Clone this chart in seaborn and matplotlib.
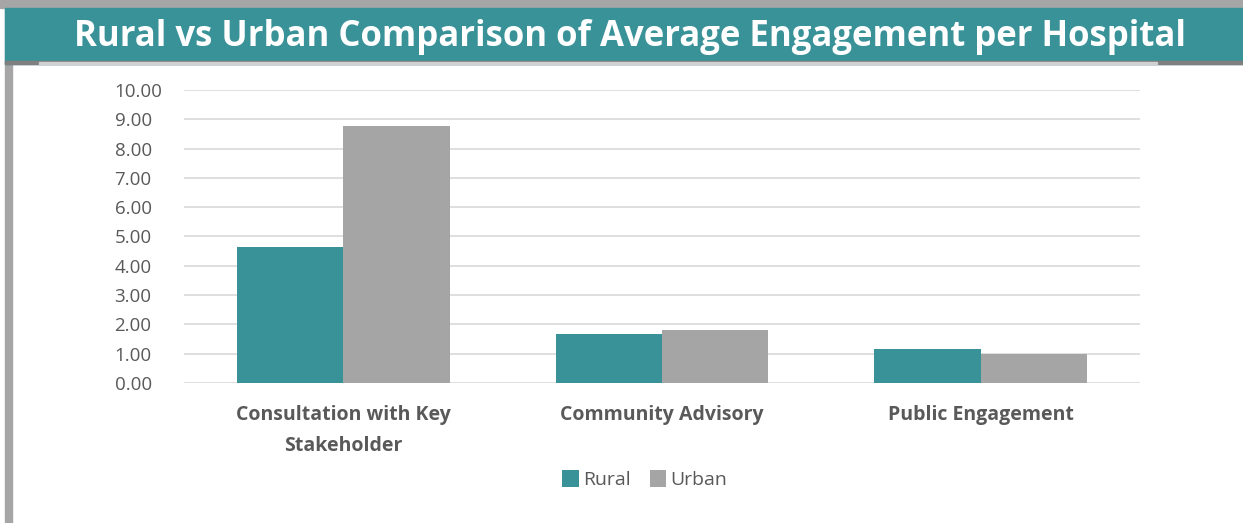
import seaborn as sns
import pandas as pd
import numpy as np
import matplotlib.pyplot as plt
from matplotlib.patches import Rectangle

categories = ['Consultation with Key\nStakeholder', 'Community Advisory', 'Public Engagement']
rural = [4.65, 1.66, 1.17]
urban = [8.78, 1.80, 0.99]
groups = ['Rural', 'Urban']
colors = ['#3a9299', '#a5a5a5']

df = pd.DataFrame({
    'cat': categories * 2,
    'grp': ['Rural'] * 3 + ['Urban'] * 3,
    'val': rural + urban,
})

sns.set_style('white')
plt.rcParams['font.family'] = ['Open Sans', 'DejaVu Sans']

fig = plt.figure(figsize=(12.43, 5.23), dpi=100)

# frame decorations
fig.patches.append(Rectangle((0, 0.985), 1, 0.015, transform=fig.transFigure, color='#a6a6a6', zorder=0))
fig.patches.append(Rectangle((0.004, 0), 0.006, 0.99, transform=fig.transFigure, color='#a6a6a6', zorder=0))
fig.patches.append(Rectangle((0.004, 0.878), 0.996, 0.106, transform=fig.transFigure, color='#3a9299', zorder=1))
fig.patches.append(Rectangle((0.004, 0.878), 0.996, 0.006, transform=fig.transFigure, color='#7f7f7f', zorder=2))
fig.patches.append(Rectangle((0.031, 0.878), 0.90, 0.003, transform=fig.transFigure, color='#d0d0d0', zorder=3))
fig.text(0.507, 0.929, 'Rural vs Urban Comparison of Average Engagement per Hospital',
         ha='center', va='center', color='white', fontsize=25, fontweight='bold',
         fontstretch='condensed')

ax = fig.add_axes([0.148, 0.268, 0.769, 0.560])
sns.barplot(data=df, x='cat', y='val', hue='grp', palette=colors, width=0.667,
            gap=0, saturation=1, linewidth=0, ax=ax, legend=True)
ax.set_ylim(0, 10)
ax.set_xlim(-0.5, 2.5)
ax.set_yticks(np.arange(0, 11, 1))
ax.set_yticklabels([f'{v:.2f}' for v in np.arange(0, 11, 1)], color='#595959', fontsize=13.5)
ax.yaxis.grid(True, color='#d9d9d9', linewidth=1.2)
ax.set_axisbelow(True)
for s in ax.spines.values():
    s.set_visible(False)
ax.tick_params(axis='y', length=0, pad=50)
ax.tick_params(axis='x', length=0, pad=16)
for lab in ax.get_yticklabels():
    lab.set_horizontalalignment('left')
ax.set_xticks(range(3))
ax.set_xticklabels(categories, color='#595959', fontsize=14, fontweight='bold', linespacing=1.7)
ax.set_xlabel('')
ax.set_ylabel('')

handles, labels = ax.get_legend_handles_labels()
ax.legend(handles, labels, loc='center', bbox_to_anchor=(0.482, -0.33), ncol=2, frameon=False,
          fontsize=14, labelcolor='#595959', handlelength=0.85, handleheight=1.0,
          handletextpad=0.2, columnspacing=1.0)

fig.savefig('out.png', dpi=100)
